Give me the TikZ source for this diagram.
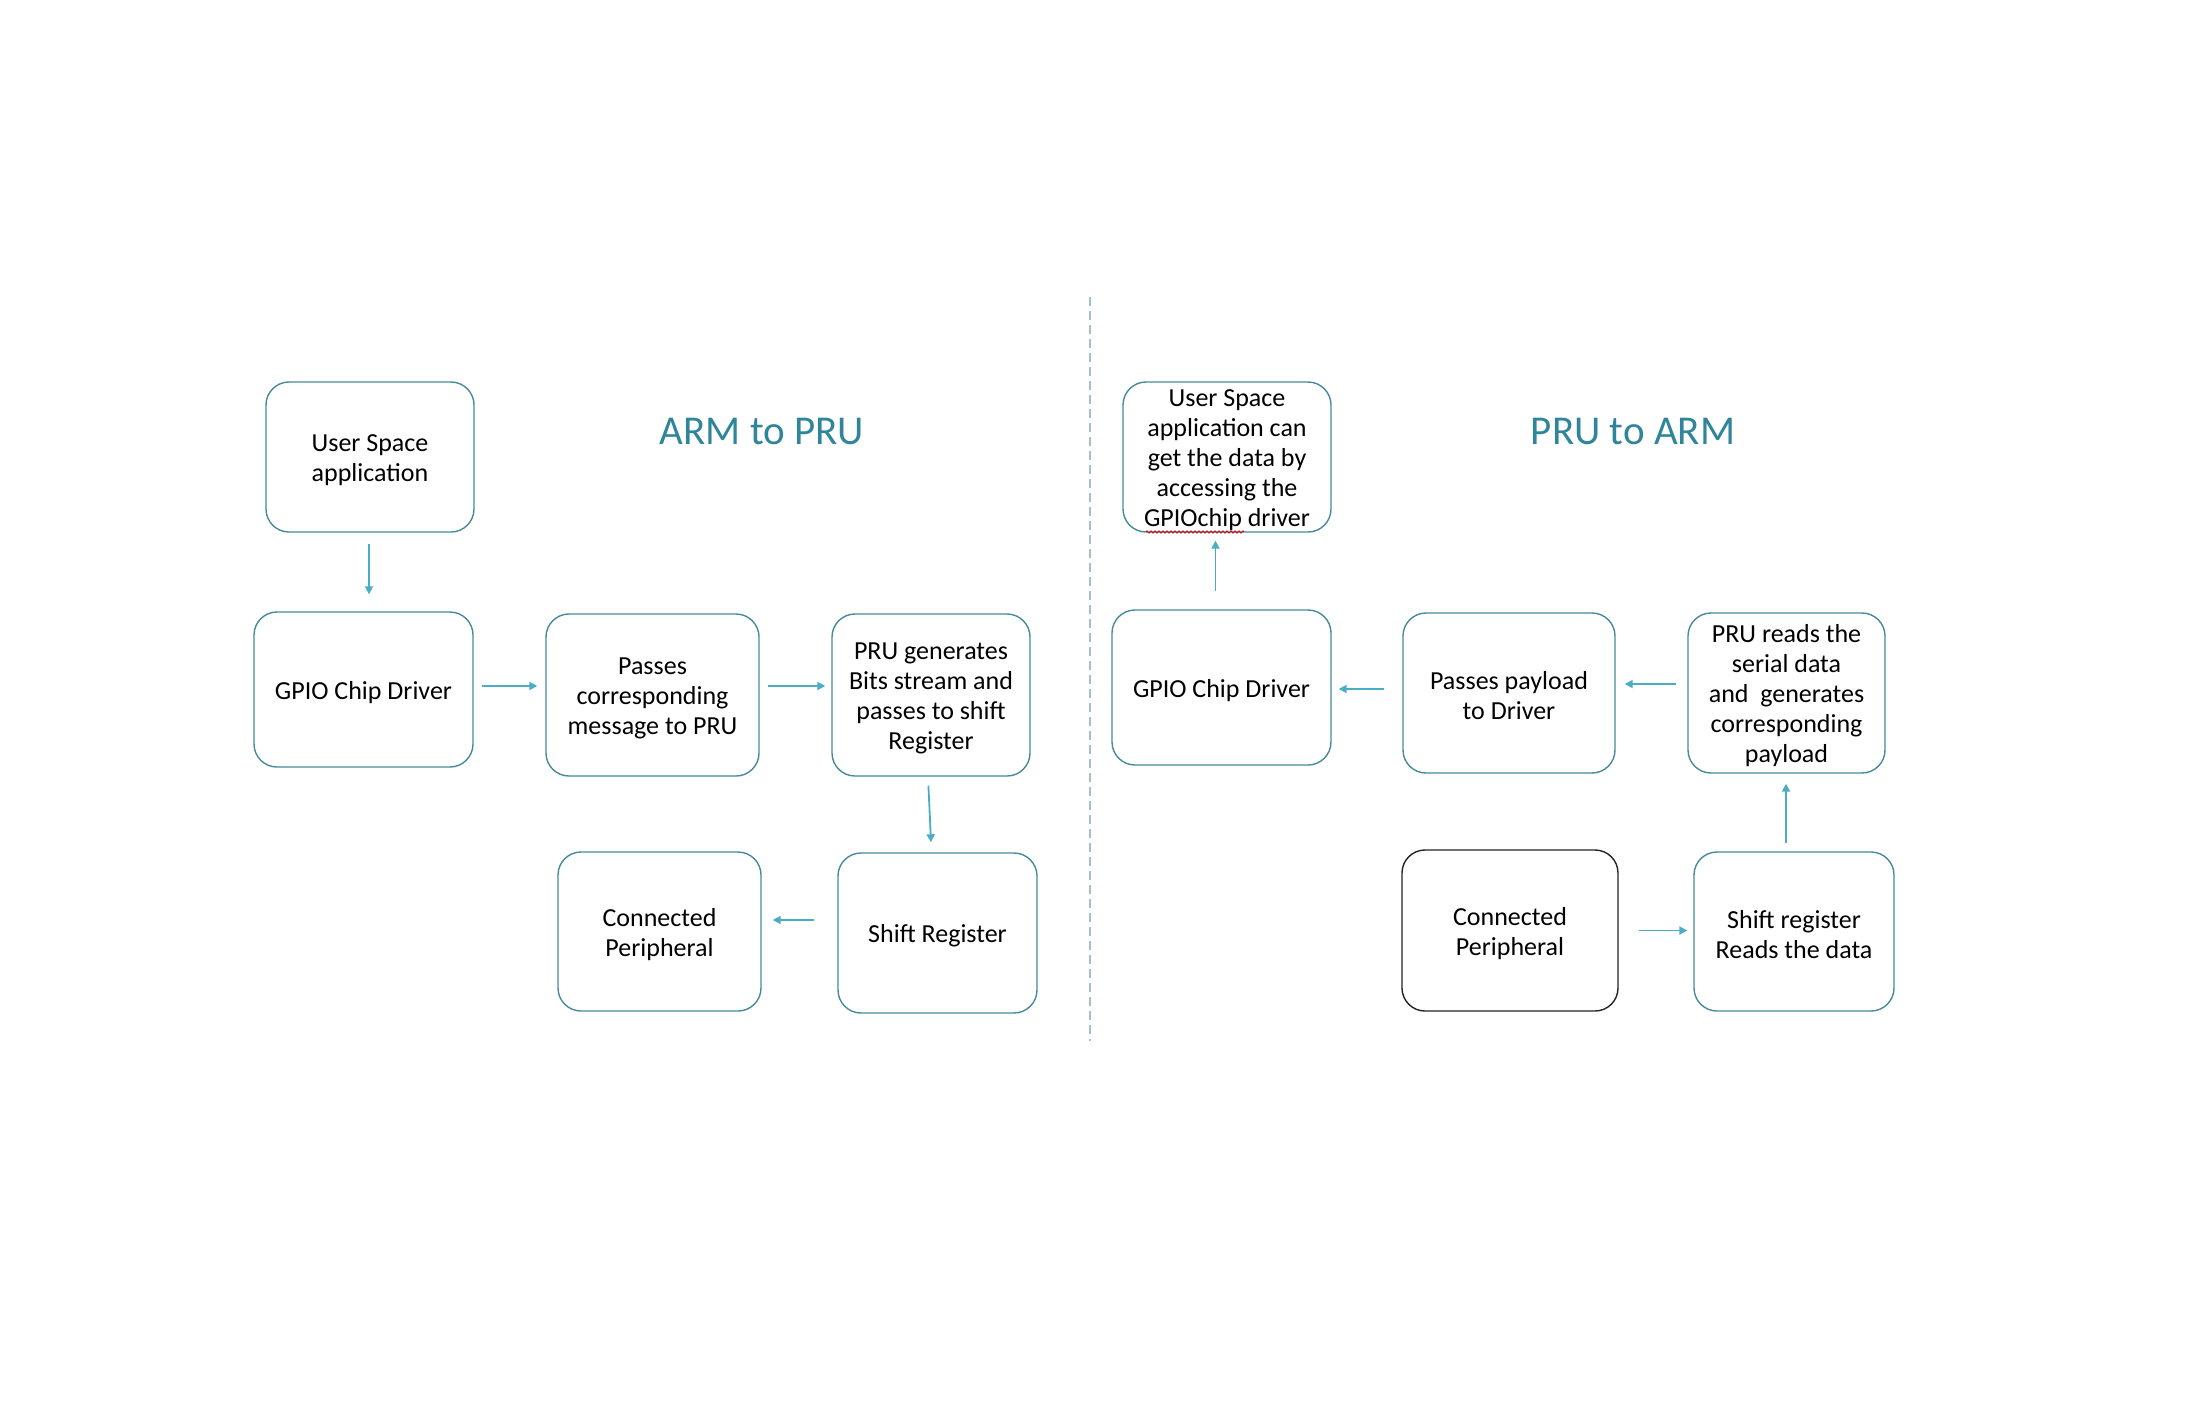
\documentclass[tikz,border=0pt]{standalone}
\usepackage{fontspec}
\setmainfont{Carlito}
\usetikzlibrary{arrows.meta,calc,decorations.pathmorphing}
\definecolor{boxline}{RGB}{70,138,154}
\definecolor{arrowc}{RGB}{75,172,198}
\definecolor{titlec}{RGB}{49,133,155}
\definecolor{dashc}{RGB}{165,193,200}
\definecolor{darkline}{RGB}{35,35,35}
\tikzset{
  box/.style={draw=boxline, line width=0.7pt, rounded corners=11.5pt, inner sep=0pt},
  darkbox/.style={box, draw=darkline},
  txt/.style={align=center, inner sep=0pt, font=\fontsize{13}{15}\selectfont},
  arr/.style={draw=arrowc, line width=0.9pt, -{Triangle[length=4pt,width=4pt]}},
  ttl/.style={text=titlec, inner sep=0pt, font=\fontsize{20.5}{24}\selectfont},
}
\begin{document}
\begin{tikzpicture}[x=0.5pt,y=-0.5pt]
\useasboundingbox (0,0) rectangle (2190,1408);
% left half
\node[box, minimum width=104pt, minimum height=75pt] (b1) at (370,457) {};
\node[box, minimum width=109.5pt, minimum height=77.5pt] (b2) at (363.5,689.5) {};
\node[box, minimum width=106.5pt, minimum height=81pt] (b3) at (652.5,695) {};
\node[box, minimum width=99pt, minimum height=81pt] (b4) at (931,695) {};
\node[box, minimum width=101.5pt, minimum height=79.5pt] (b5) at (659.5,931.5) {};
\node[box, minimum width=99.5pt, minimum height=80pt] (b6) at (937.5,933) {};
\node[txt] (b1t) at ([yshift=-1.5pt]b1.center) {User Space\\application};
\node[txt] (b2t) at ([yshift=-1.5pt]b2.center) {GPIO Chip Driver};
\node[txt] (b3t) at ([yshift=-1.5pt]b3.center) {Passes\\corresponding\\message to PRU};
\node[txt] (b4t) at ([yshift=-1.5pt]b4.center) {PRU generates\\Bits stream and\\passes to shift\\Register};
\node[txt] (b5t) at ([yshift=-1.5pt]b5.center) {Connected\\Peripheral};
\node[txt] (b6t) at ([yshift=-1.5pt]b6.center) {Shift Register};
\node[ttl] (t1) at (762,431) {ARM to PRU};
% right half
\node[box, minimum width=104pt, minimum height=75pt] (b7) at (1227,457) {};
\node[box, minimum width=109.5pt, minimum height=77.5pt] (b8) at (1221.5,687.5) {};
\node[box, minimum width=106pt, minimum height=80pt] (b9) at (1509,693) {};
\node[box, minimum width=98.5pt, minimum height=80pt] (b10) at (1786.5,693) {};
\node[darkbox, minimum width=108pt, minimum height=80.5pt] (b11) at (1510,930.5) {};
\node[box, minimum width=100pt, minimum height=79.5pt] (b12) at (1794,931.5) {};
\node[txt] (b7t) at ([yshift=-1.5pt]b7.center) {User Space\\application can\\get the data by\\accessing the\\GPIOchip driver};
\node[txt] (b8t) at ([yshift=-1.5pt]b8.center) {GPIO Chip Driver};
\node[txt] (b9t) at ([yshift=-1.5pt]b9.center) {Passes payload\\to Driver};
\node[txt] (b10t) at ([yshift=-1.5pt]b10.center) {PRU reads the\\serial data\\and\ \ generates\\corresponding\\payload};
\node[txt] (b11t) at ([yshift=-1.5pt]b11.center) {Connected\\Peripheral};
\node[txt] (b12t) at ([yshift=-1.5pt]b12.center) {Shift register\\Reads the data};
\node[ttl] (t2) at (1633,431) {PRU to ARM};
% divider
\coordinate (d1) at (1090,297);
\coordinate (d2) at (1090,1041);
\draw[dashc, line width=1pt, dash pattern=on 4.5pt off 2.5pt] (d1) -- (d2);
% spell-check squiggle
\coordinate (s1) at (1146,532);
\coordinate (s2) at (1244,532);
\draw[red!80!black, line width=0.4pt, decorate, decoration={zigzag, amplitude=0.6pt, segment length=2pt}] (s1) -- (s2);
% arrows left
\draw[arr, shorten <=5.5pt, shorten >=8.5pt] ([xshift=-0.5pt]b1.south) -- ([xshift=-0.5pt]b1.south |- b2.north);
\draw[arr, shorten <=4pt, shorten >=4pt] ([yshift=1.75pt]b2.east) -- ([yshift=1.75pt]b2.east -| b3.west);
\draw[arr, shorten <=4pt, shorten >=3pt] ([yshift=4.5pt]b3.east) -- ([yshift=4.5pt]b3.east -| b4.west);
\draw[arr, shorten <=4.5pt, shorten >=5pt] ([xshift=-1.5pt]b4.south) -- ([xshift=-3pt]b6.north);
\draw[arr, shorten <=11.5pt, shorten >=5.5pt] ([yshift=6.5pt]b6.west) -- ([yshift=6.5pt]b6.west -| b5.east);
% arrows right
\draw[arr, shorten <=9pt, shorten >=4pt] ([xshift=-3pt]b8.north) -- ([xshift=-3pt]b8.north |- b7.south);
\draw[arr, shorten <=9pt, shorten >=3.5pt] ([yshift=2pt]b9.west) -- ([yshift=2pt]b9.west -| b8.east);
\draw[arr, shorten <=5.5pt, shorten >=4.5pt] ([yshift=4.5pt]b10.west) -- ([yshift=4.5pt]b10.west -| b9.east);
\draw[arr, shorten <=4pt, shorten >=5pt] ([xshift=-4pt]b12.north) -- ([xshift=-4pt]b12.north |- b10.south);
\draw[arr, shorten <=10pt, shorten >=3pt] (b11.east) -- (b11.east -| b12.west);
\end{tikzpicture}
\end{document}
